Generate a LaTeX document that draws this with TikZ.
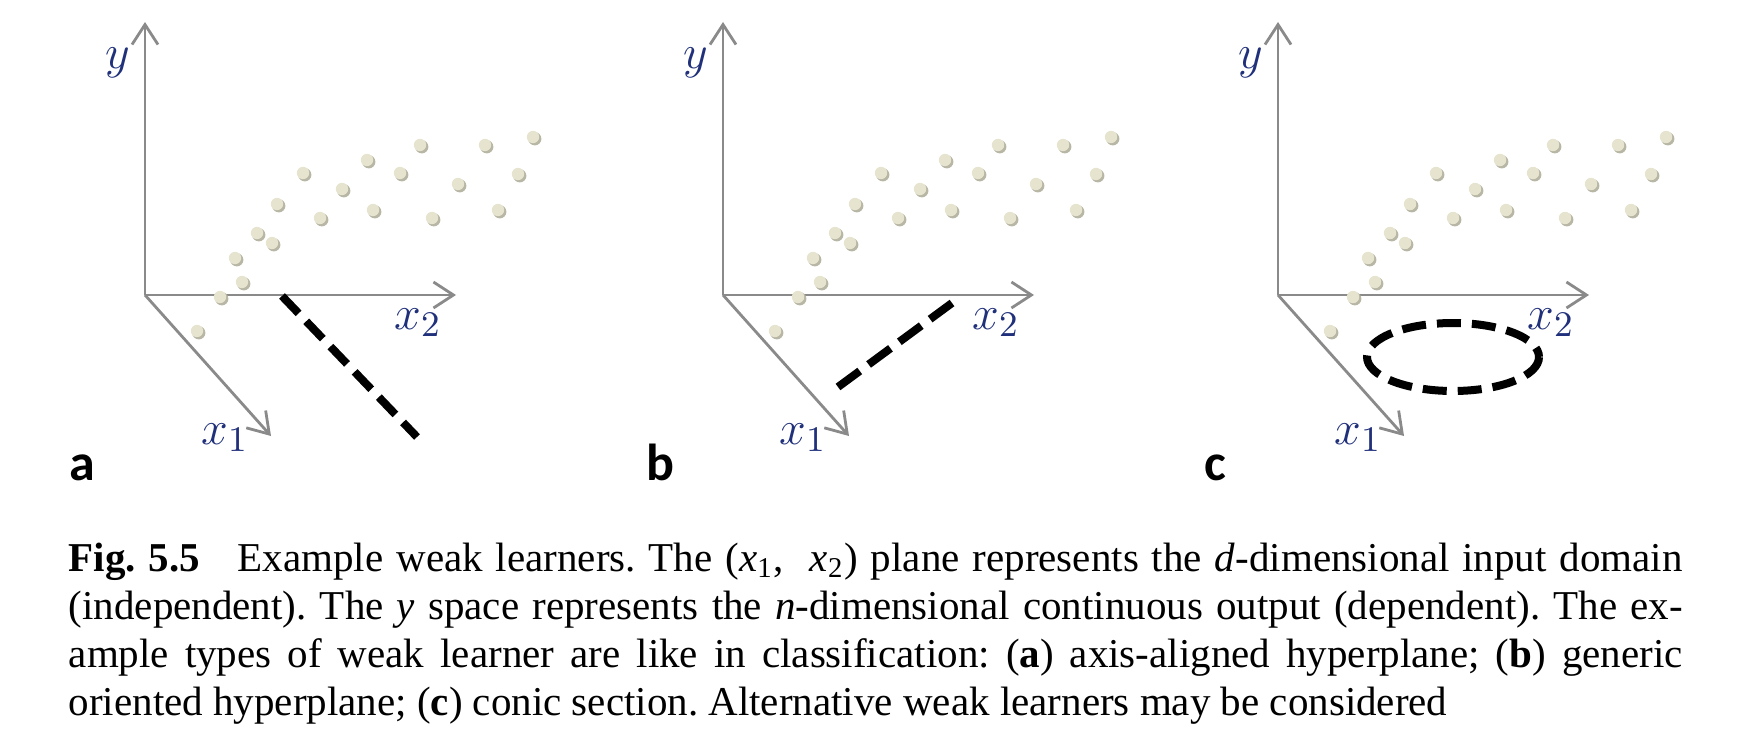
\documentclass[tikz,border=0pt]{standalone}
\usepackage{fontspec}
\setmainfont{Liberation Serif}
\newfontfamily\panelfont{Carlito}
\usepackage{tikz}
\usetikzlibrary{arrows.meta, calc}

\definecolor{axisgray}{RGB}{138,138,138}
\definecolor{varblue}{RGB}{32,48,122}
\definecolor{dotfill}{RGB}{230,228,206}
\definecolor{dotshade}{RGB}{184,182,164}

\begin{document}
\begin{tikzpicture}[x=0.25pt, y=-0.25pt,
  axis/.style={draw=axisgray, line width=0.7pt, -{Straight Barb[length=5pt,width=6.5pt]}},
  cut/.style={line width=2pt, dash pattern=on 6pt off 2.75pt},
  varlabel/.style={text=varblue, font=\fontsize{12.5}{15}\selectfont, inner sep=0pt},
  panellabel/.style={font=\panelfont\bfseries\fontsize{13}{15}\selectfont, inner sep=0pt, anchor=base}]
\useasboundingbox (0,0) rectangle (1754,738);

% three copies of the axes and the samples
\foreach \ox/\p in {145/a, 723/b, 1278/c} {
  \begin{scope}[shift={(\ox,295)}]
    \coordinate (\p-o) at (0,0);
    \coordinate (\p-y) at (0,-273);
    \coordinate (\p-x2) at (311,0);
    \coordinate (\p-x1) at (126,141);
    \draw[axis] (\p-o) -- (\p-y);
    \draw[axis] (\p-o) -- (\p-x2);
    \draw[axis] (\p-o) -- (\p-x1);
    \node[varlabel] (\p-ylab) at (-27,-232) {$y$};
    \node[varlabel] (\p-x2lab) at (273,28) {$x_2$};
    \node[varlabel] (\p-x1lab) at (80,143) {$x_1$};
    \node[panellabel] (\p-lab) at (-63,480-295) {\p};
    \foreach \dx/\dy in {388/-158, 340/-150, 275/-150, 222/-135, 255/-122,
                         373/-121, 158/-122, 197/-106, 313/-111, 132/-91,
                         175/-77, 228/-85, 287/-77, 353/-85, 112/-62,
                         127/-52, 90/-37, 97/-13, 75/2, 52/36} {
      \fill[dotshade] (\dx+1.8,\dy+1.8) circle[radius=6.6];
      \fill[dotfill] (\dx,\dy) circle[radius=6.2];
    }
  \end{scope}
}

% weak learners
\coordinate (a-s) at ($(a-o)+(137,1)$);
\coordinate (a-e) at ($(a-o)+(272,142)$);
\draw[cut] (a-s) -- (a-e);
\coordinate (b-s) at ($(b-o)+(229,8)$);
\coordinate (b-e) at ($(b-o)+(115,92)$);
\draw[cut, dash pattern=on 6.8pt off 2.75pt] (b-s) -- (b-e);
\coordinate (c-m) at ($(c-o)+(175,62)$);
\draw[cut] (c-m) ellipse[x radius=86, y radius=34];

\node[anchor=north west, text width=403.5pt, align=justify, inner sep=0pt,
  font=\fontsize{10.25}{12.05}\selectfont\frenchspacing] (caption) at (68,542)
  {\textbf{Fig.\ 5.5}\hspace{0.6em} Example weak learners. The (\textit{x}\textsubscript{1},\ \ \textit{x}\textsubscript{2}) plane represents the \textit{d}-dimensional input domain\linebreak
  (independent). The \textit{y} space represents the \textit{n}-dimensional continuous output (dependent). The ex-\linebreak
  ample types of weak learner are like in classification: (\textbf{a}) axis-aligned hyperplane; (\textbf{b}) generic\linebreak
  oriented hyperplane; (\textbf{c}) conic section. Alternative weak learners may be considered};
\end{tikzpicture}
\end{document}
